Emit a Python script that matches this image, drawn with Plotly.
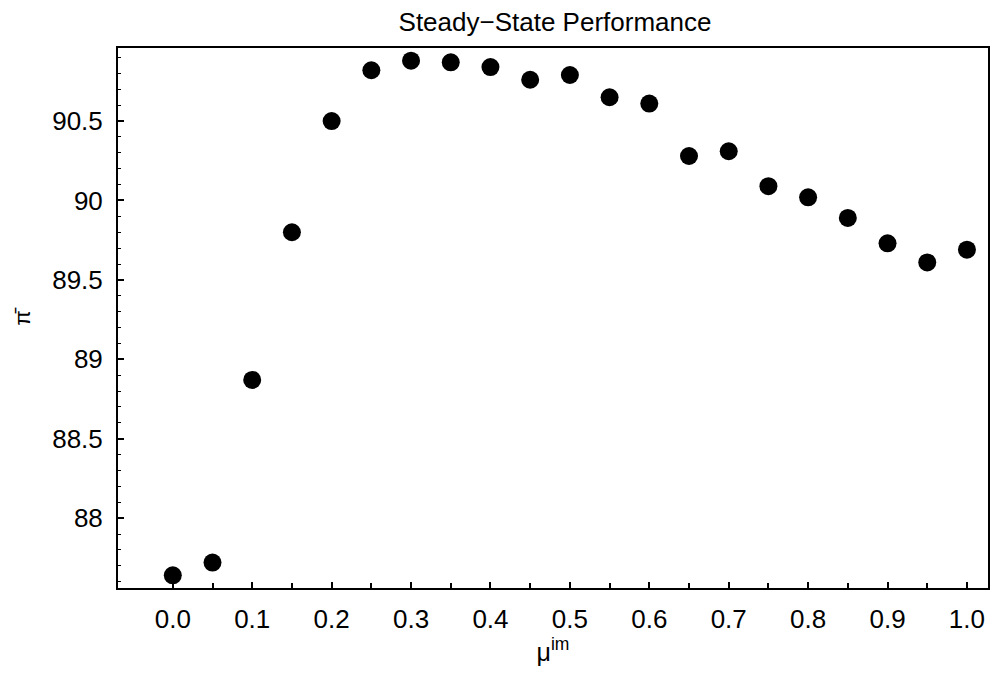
import plotly.graph_objects as go

mu_im = [0.0, 0.05, 0.1, 0.15, 0.2, 0.25, 0.3, 0.35, 0.4, 0.45, 0.5,
         0.55, 0.6, 0.65, 0.7, 0.75, 0.8, 0.85, 0.9, 0.95, 1.0]
pi_bar = [87.64, 87.72, 88.87, 89.80, 90.50, 90.82, 90.88, 90.87, 90.84, 90.76, 90.79,
          90.65, 90.61, 90.28, 90.31, 90.09, 90.02, 89.89, 89.73, 89.61, 89.69]

x_tickvals = [0.0, 0.1, 0.2, 0.3, 0.4, 0.5, 0.6, 0.7, 0.8, 0.9, 1.0]
x_ticktext = ["0.0", "0.1", "0.2", "0.3", "0.4", "0.5", "0.6", "0.7", "0.8", "0.9", "1.0"]
x_minorvals = [0.05, 0.15, 0.25, 0.35, 0.45, 0.55, 0.65, 0.75, 0.85, 0.95]
y_tickvals = [88.0, 88.5, 89.0, 89.5, 90.0, 90.5]
y_ticktext = ["88", "88.5", "89", "89.5", "90", "90.5"]

FONT = "Liberation Sans, Arial, Helvetica, sans-serif"

fig = go.Figure()
fig.add_trace(go.Scatter(
    x=mu_im, y=pi_bar, mode="markers",
    marker=dict(color="black", size=18, line=dict(width=0)),
    showlegend=False,
))

fig.update_layout(
    width=993, height=673,
    margin=dict(l=118, r=5, t=48, b=85),
    paper_bgcolor="white", plot_bgcolor="white",
    font=dict(family=FONT, color="black", size=26),
    title=dict(text="Steady\u2212State Performance", x=555/993, xanchor="center",
               y=1 - 22/673, yanchor="middle", yref="container",
               font=dict(family=FONT, size=26, color="black")),
)

fig.update_xaxes(
    range=[-0.069, 1.0265], showgrid=False, zeroline=False, automargin=False,
    showline=True, linecolor="black", linewidth=2, mirror=True,
    tickmode="array", tickvals=x_tickvals, ticktext=x_ticktext,
    ticks="inside", ticklen=6, tickwidth=1.5, tickcolor="black",
    tickfont=dict(family=FONT, size=26), ticklabelstandoff=7,
    minor=dict(tickmode="array", tickvals=x_minorvals,
               ticks="inside", ticklen=5, tickwidth=1.5, tickcolor="black", showgrid=False),
    title=dict(text="\u03bc<sup>im</sup>", font=dict(family=FONT, size=25), standoff=6),
)
fig.update_yaxes(
    range=[87.56, 90.96], showgrid=False, zeroline=False, automargin=False,
    showline=True, linecolor="black", linewidth=2, mirror=True,
    tickmode="array", tickvals=y_tickvals, ticktext=y_ticktext,
    ticks="inside", ticklen=6, tickwidth=1.5, tickcolor="black",
    tickfont=dict(family=FONT, size=26), ticklabelstandoff=8,
    minor=dict(tickmode="linear", tick0=87.6, dtick=0.1,
               ticks="inside", ticklen=3, tickwidth=1, tickcolor="black", showgrid=False),
    title=dict(text="\u03c0\u0304", font=dict(family=FONT, size=22), standoff=15),
)

fig.write_html("out.html")
